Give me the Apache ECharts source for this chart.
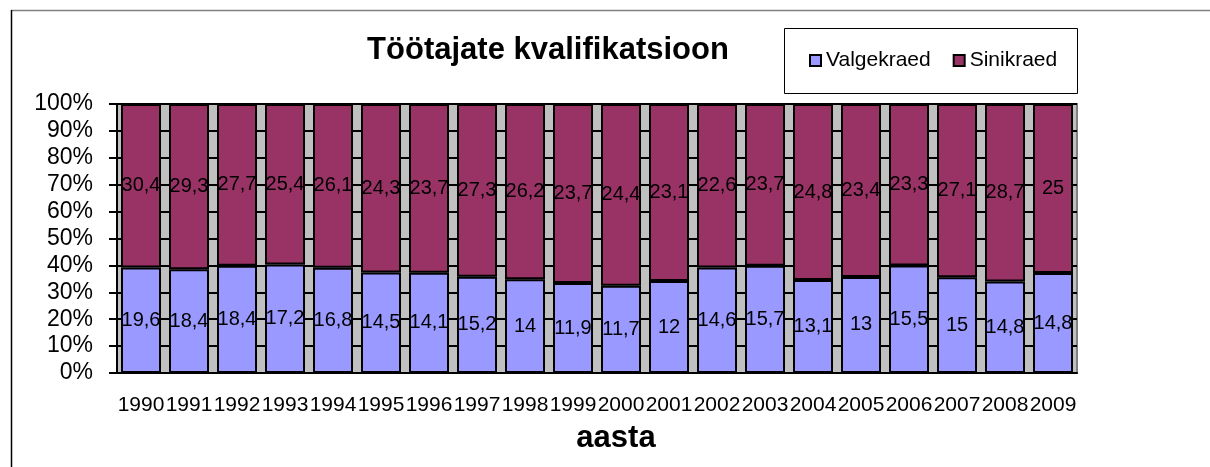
<!DOCTYPE html>
<html>
<head>
<meta charset="utf-8">
<script src="https://cdn.jsdelivr.net/npm/echarts@6/dist/echarts.min.js"></script>
<style>
  html, body { margin: 0; padding: 0; background: #fff; }
  #chart { width: 1210px; height: 467px; }
</style>
</head>
<body>
<div id="chart"></div>
<script>
// aastad
const years = ["1990", "1991", "1992", "1993", "1994", "1995", "1996", "1997", "1998", "1999",
  "2000", "2001", "2002", "2003", "2004", "2005", "2006", "2007", "2008", "2009"];
const valgekraed = [19.6, 18.4, 18.4, 17.2, 16.8, 14.5, 14.1, 15.2, 14, 11.9,
  11.7, 12, 14.6, 15.7, 13.1, 13, 15.5, 15, 14.8, 14.8];
const sinikraed = [30.4, 29.3, 27.7, 25.4, 26.1, 24.3, 23.7, 27.3, 26.2, 23.7,
  24.4, 23.1, 22.6, 23.7, 24.8, 23.4, 23.3, 27.1, 28.7, 25];
const yTicks = [0, 10, 20, 30, 40, 50, 60, 70, 80, 90, 100];

// 100% stacked: share of each year total
const totals = years.map((y, i) => valgekraed[i] + sinikraed[i]);
const pct = (arr) => arr.map((v, i) => (v / totals[i]) * 100);
const fmt = (arr) => (p) => String(arr[p.dataIndex]).replace(".", ",");

const chart = echarts.init(document.getElementById("chart"));

const labelStyle = {
  show: true,
  position: "inside",
  color: "#000",
  fontFamily: "Liberation Sans",
  fontSize: 20,
};

chart.setOption({
  animation: false,
  title: [
    {
      text: "Töötajate kvalifikatsioon",
      left: 543,
      top: 30,
      textAlign: "center",
      textStyle: {
        fontFamily: "Liberation Sans",
        fontWeight: "bold",
        fontSize: 31,
        color: "#000",
      },
    },
    {
      text: "aasta",
      left: 611,
      top: 418,
      textAlign: "center",
      textStyle: {
        fontFamily: "Liberation Sans",
        fontWeight: "bold",
        fontSize: 31,
        color: "#000",
      },
    },
  ],
  legend: {
    left: 809,
    top: 50,
    padding: 0,
    itemWidth: 11,
    itemHeight: 11,
    itemGap: 22,
    icon: "rect",
    textStyle: {
      fontFamily: "Liberation Sans",
      fontSize: 21,
      color: "#000",
    },
    itemStyle: { borderColor: "#000", borderWidth: 2 },
    data: ["Valgekraed", "Sinikraed"],
  },
  grid: {
    left: 117,
    right: 133,
    top: 104,
    bottom: 94,
    show: true,
    backgroundColor: "#c0c0c0",
    borderColor: "#808080",
    borderWidth: 2,
  },
  xAxis: {
    type: "category",
    data: years,
    axisLine: { lineStyle: { color: "#000", width: 2 } },
    axisTick: { length: 7, lineStyle: { color: "#000", width: 1 } },
    axisLabel: {
      margin: 22,
      interval: 0,
      color: "#000",
      fontFamily: "Liberation Sans",
      fontSize: 21,
    },
  },
  yAxis: {
    type: "value",
    min: yTicks[0],
    max: yTicks[yTicks.length - 1],
    interval: 10,
    axisLine: { show: true, lineStyle: { color: "#000", width: 2 } },
    axisTick: { show: true, length: 8, lineStyle: { color: "#000", width: 2 } },
    axisLabel: {
      margin: 24,
      formatter: "{value}%",
      color: "#000",
      fontFamily: "Liberation Sans",
      fontSize: 23,
    },
    splitLine: { show: true, lineStyle: { color: "#000", width: 2 } },
  },
  series: [
    {
      name: "Valgekraed",
      type: "bar",
      stack: "kokku",
      barWidth: 40,
      data: pct(valgekraed),
      itemStyle: { color: "#9999ff", borderColor: "#000", borderWidth: 2 },
      label: Object.assign({ formatter: fmt(valgekraed) }, labelStyle),
    },
    {
      name: "Sinikraed",
      type: "bar",
      stack: "kokku",
      barWidth: 40,
      data: pct(sinikraed),
      itemStyle: { color: "#993366", borderColor: "#000", borderWidth: 2 },
      label: Object.assign({ formatter: fmt(sinikraed) }, labelStyle),
    },
  ],
  graphic: [
    // chart area frame (top and left edges visible)
    {
      type: "line",
      shape: { x1: 11, y1: 10.5, x2: 1210, y2: 10.5 },
      style: { stroke: "#808080", lineWidth: 1.5 },
    },
    {
      type: "line",
      shape: { x1: 11.5, y1: 10, x2: 11.5, y2: 467 },
      style: { stroke: "#000", lineWidth: 1.5 },
    },
    // legend box
    {
      type: "rect",
      shape: { x: 784.5, y: 28.5, width: 293, height: 65 },
      style: { fill: "#fff", stroke: "#000", lineWidth: 1 },
      z: -1,
    },
  ],
});
</script>
</body>
</html>
